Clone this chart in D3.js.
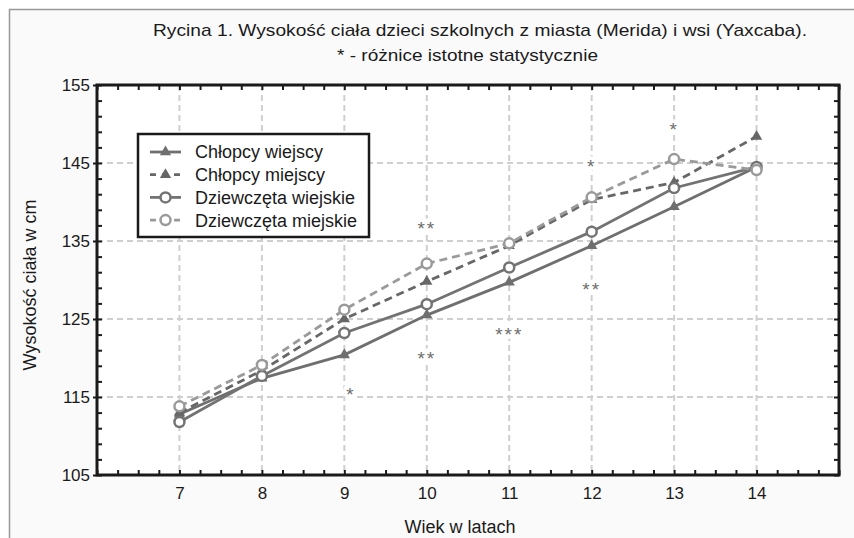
<!DOCTYPE html>
<html>
<head>
<meta charset="utf-8">
<script src="https://cdn.jsdelivr.net/npm/d3@7/dist/d3.min.js"></script>
<style>
  body { margin: 0; background: #fff; }
  svg text { font-family: "Liberation Sans", Arial, sans-serif; fill: #1a1a1a; }
</style>
</head>
<body>
<div id="chart"></div>
<script>
// data
const ages = [7, 8, 9, 10, 11, 12, 13, 14];
const boysRural  = [112.8, 117.4, 120.4, 125.5, 129.7, 134.4, 139.4, 144.5];
const boysUrban  = [113.0, 118.4, 125.0, 129.8, 134.4, 140.3, 142.5, 148.4];
const girlsRural = [111.8, 117.7, 123.2, 126.9, 131.6, 136.2, 141.8, 144.5];
const girlsUrban = [113.8, 119.1, 126.2, 132.1, 134.7, 140.6, 145.5, 144.1];

const seriesNames = ["Chłopcy wiejscy", "Chłopcy miejscy", "Dziewczęta wiejskie", "Dziewczęta miejskie"];

// significance marks
const starLabels = ["*", "**", "**", "***", "*", "**", "*"];
const starAges   = [9.08, 10, 10, 11, 12, 12, 13];
const starValues = [115.9, 137.2, 120.6, 123.6, 145.2, 129.4, 149.9];

const xTicks = [7, 8, 9, 10, 11, 12, 13, 14];
const yTicks = [105, 115, 125, 135, 145, 155];

const W = 854, H = 538;
const plotL = 97, plotR = 839, plotT = 85, plotB = 475;

const svg = d3.select("#chart").append("svg")
    .attr("width", W)
    .attr("height", H);

// outer frame
svg.append("rect")
    .attr("x", 9.5).attr("y", 9.5)
    .attr("width", W + 20).attr("height", H + 20)
    .attr("fill", "#fafafa")
    .attr("stroke", "#999")
    .attr("stroke-width", 1.5);

const x = d3.scaleLinear().domain([6, 15]).range([plotL, plotR]);
const y = d3.scaleLinear().domain([105, 155]).range([plotB, plotT]);

svg.append("rect")
    .attr("x", plotL).attr("y", plotT)
    .attr("width", plotR - plotL).attr("height", plotB - plotT)
    .attr("fill", "#fff");

// grid
const grid = svg.append("g")
    .attr("stroke", "#cfcfcf")
    .attr("stroke-width", 2)
    .attr("stroke-dasharray", "6,4");
grid.selectAll("line.v").data(xTicks).join("line")
    .attr("class", "v")
    .attr("x1", d => x(d)).attr("x2", d => x(d))
    .attr("y1", plotT).attr("y2", plotB);
grid.selectAll("line.h").data(yTicks.filter(d => d > 105 && d < 155)).join("line")
    .attr("class", "h")
    .attr("x1", plotL).attr("x2", plotR)
    .attr("y1", d => y(d)).attr("y2", d => y(d));

// significance stars (white halo breaks the grid like the original)
const starSize = 19;
svg.append("g").selectAll("text").data(starLabels).join("text")
    .attr("x", (d, i) => x(starAges[i]))
    .attr("y", (d, i) => y(starValues[i]) + starSize * 0.6)
    .attr("text-anchor", "middle")
    .attr("font-size", starSize)
    .attr("letter-spacing", 2)
    .style("fill", "#6e6e6e")
    .attr("stroke", "#fff")
    .attr("stroke-width", 7)
    .attr("paint-order", "stroke")
    .text(d => d);

// minor ticks on all four sides, pointing inward
const minorY = d3.range(105, 155.01, 2);
const minorX = d3.range(6, 15.01, 0.25);
function styleAxis(g) {
    g.select(".domain").remove();
    g.selectAll("line").attr("stroke", "#1a1a1a").attr("stroke-width", 2);
}
svg.append("g").attr("transform", `translate(${plotL},0)`)
    .call(d3.axisLeft(y).tickValues(minorY).tickSize(-5).tickFormat(""))
    .call(styleAxis);
svg.append("g").attr("transform", `translate(${plotR},0)`)
    .call(d3.axisRight(y).tickValues(minorY).tickSize(-5).tickFormat(""))
    .call(styleAxis);
svg.append("g").attr("transform", `translate(0,${plotB})`)
    .call(d3.axisBottom(x).tickValues(minorX).tickSize(-5).tickFormat(""))
    .call(styleAxis);
svg.append("g").attr("transform", `translate(0,${plotT})`)
    .call(d3.axisTop(x).tickValues(minorX).tickSize(-5).tickFormat(""))
    .call(styleAxis);

// labelled axes
const yAxis = svg.append("g").attr("transform", `translate(${plotL},0)`)
    .call(d3.axisLeft(y).tickValues(yTicks).tickSize(4).tickPadding(3))
    .call(styleAxis);
yAxis.selectAll("text").attr("font-size", 17).style("fill", "#1a1a1a");

const xAxis = svg.append("g").attr("transform", `translate(0,${plotB})`)
    .call(d3.axisBottom(x).tickValues(xTicks).tickSize(0).tickPadding(12))
    .call(styleAxis);
xAxis.selectAll("text").attr("font-size", 17).style("fill", "#1a1a1a");

// plot frame
svg.append("rect")
    .attr("x", plotL).attr("y", plotT)
    .attr("width", plotR - plotL).attr("height", plotB - plotT)
    .attr("fill", "none")
    .attr("stroke", "#1a1a1a")
    .attr("stroke-width", 3);

// series
const series = [
    { name: seriesNames[0], values: boysRural,  color: "#6f6f6f", dash: null,  marker: "triangle" },
    { name: seriesNames[1], values: boysUrban,  color: "#676767", dash: "8,5", marker: "triangle" },
    { name: seriesNames[2], values: girlsRural, color: "#737373", dash: null,  marker: "circle" },
    { name: seriesNames[3], values: girlsUrban, color: "#9a9a9a", dash: "8,5", marker: "circle" }
];

const line = d3.line()
    .x((d, i) => x(ages[i]))
    .y(d => y(d));

const tri = d3.symbol().type(d3.symbolTriangle).size(55);

function drawMarker(g, s, cx, cy) {
    if (s.marker === "triangle") {
        g.append("path")
            .attr("d", tri())
            .attr("transform", `translate(${cx},${cy})`)
            .attr("fill", s.color);
    } else {
        g.append("circle")
            .attr("cx", cx).attr("cy", cy).attr("r", 5)
            .attr("fill", "#fff")
            .attr("stroke", s.color)
            .attr("stroke-width", 2.5);
    }
}

series.forEach(s => {
    svg.append("path")
        .datum(s.values)
        .attr("d", line)
        .attr("fill", "none")
        .attr("stroke", s.color)
        .attr("stroke-width", 2.8)
        .attr("stroke-dasharray", s.dash);
});
series.forEach(s => {
    const g = svg.append("g");
    s.values.forEach((v, i) => drawMarker(g, s, x(ages[i]), y(v)));
});

// legend
const legend = svg.append("g");
legend.append("rect")
    .attr("x", 138).attr("y", 134)
    .attr("width", 231).attr("height", 103)
    .attr("fill", "#fff")
    .attr("stroke", "#1a1a1a")
    .attr("stroke-width", 2.5);
series.forEach((s, i) => {
    const ly = 152 + i * 22.7;
    const g = legend.append("g");
    g.append("line")
        .attr("x1", 150).attr("x2", 181)
        .attr("y1", ly).attr("y2", ly)
        .attr("stroke", s.color)
        .attr("stroke-width", 2.8)
        .attr("stroke-dasharray", s.dash ? "6,6" : null);
    drawMarker(g, s, 165.5, ly);
    g.append("text")
        .attr("x", 195).attr("y", ly)
        .attr("dy", "0.36em")
        .attr("font-size", 18)
        .text(s.name);
});

// titles
svg.append("text")
    .attr("x", 153).attr("y", 36)
    .attr("font-size", 17)
    .attr("textLength", 654)
    .attr("lengthAdjust", "spacingAndGlyphs")
    .text("Rycina 1. Wysokość ciała dzieci szkolnych z miasta (Merida) i  wsi (Yaxcaba).");
svg.append("text")
    .attr("x", 337).attr("y", 61)
    .attr("font-size", 17)
    .attr("textLength", 261)
    .attr("lengthAdjust", "spacingAndGlyphs")
    .text("* - różnice istotne statystycznie");

svg.append("text")
    .attr("x", 460).attr("y", 533)
    .attr("text-anchor", "middle")
    .attr("font-size", 18)
    .text("Wiek w latach");

svg.append("text")
    .attr("transform", "translate(36,285) rotate(-90)")
    .attr("text-anchor", "middle")
    .attr("font-size", 18)
    .text("Wysokość ciała w cm");
</script>
</body>
</html>
